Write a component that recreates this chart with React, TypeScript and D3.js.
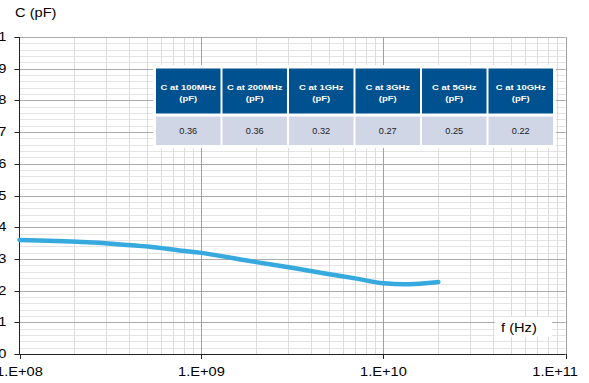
import React from 'react';
import * as d3 from 'd3';

const width = 589;
const height = 383;
const margin = { top: 37, right: 23.5, bottom: 29, left: 19.5 };
const blue = '#36a9de';
const headBlue = '#00518f';
const cellBlue = '#d0d6e6';
const stretch = 1.22; // the reference text is a bit wider than plain Arial

const freqHz = [1e8, 1.43e8, 2.2e8, 3.35e8, 5.08e8, 7.8e8, 1.0e9, 1.4e9, 2.04e9, 3.14e9, 4.77e9, 7.25e9, 1.0e10, 1.32e10, 1.7e10, 2.0e10];
const capPF = [0.36, 0.357, 0.353, 0.347, 0.339, 0.326, 0.319, 0.305, 0.289, 0.272, 0.254, 0.237, 0.223, 0.22, 0.223, 0.227];

// table
const tableFreqs = ['100MHz', '200MHz', '1GHz', '3GHz', '5GHz', '10GHz'];
const tableValues = ['0.36', '0.36', '0.32', '0.27', '0.25', '0.22'];

// axes
const yTicks = [0, 0.1, 0.2, 0.3, 0.4, 0.5, 0.6, 0.7, 0.8, 0.9, 1];
const yTickLabels = ['0', '0.1', '0.2', '0.3', '0.4', '0.5', '0.6', '0.7', '0.8', '0.9', '1'];
const xTicks = [1e8, 1e9, 1e10, 1e11];
const xTickLabels = ['1.E+08', '1.E+09', '1.E+10', '1.E+11'];

const font = 'Liberation Sans, Arial, sans-serif';

const T = ({ x, y, anchor = 'start', size = 12, weight = 'normal', fill = '#000', sx = stretch, children }: any) => (
	<text
		transform={`translate(${x},${y}) scale(${sx},1)`}
		textAnchor={anchor}
		fontSize={size}
		fontWeight={weight}
		fill={fill}
		fontFamily={font}
	>
		{children}
	</text>
);

export default function App() {
	const x = d3.scaleLog().domain([1e8, 1e11]).range([margin.left, width - margin.right]);
	const y = d3.scaleLinear().domain([0, 1]).range([height - margin.bottom, margin.top]);
	const x0 = margin.left;
	const x1 = width - margin.right;
	const y0 = height - margin.bottom;

	// minor grid
	const xMinor: number[] = [];
	[1e8, 1e9, 1e10].forEach((d) => {
		for (let k = 2; k <= 9; k++) xMinor.push(d * k);
	});
	const yMinor = d3.range(0, 50).map((i) => i * 0.02).filter((v, i) => i % 5 !== 0);

	const line = d3
		.line<number>()
		.x((d, i) => x(freqHz[i]))
		.y((d) => y(d))
		.curve(d3.curveMonotoneX);

	// table layout
	const col = d3.scaleBand<string>().domain(tableFreqs).range([156, 553]).paddingInner(0.03);
	const headTop = 68.5;
	const headH = 45;
	const rowTop = 116.5;
	const rowH = 28.5;

	return (
		<svg width={width} height={height} style={{ position: 'absolute', left: 0, top: 0, background: '#fff' }}>
			{/* minor grid */}
			{yMinor.map((v) => (
				<line key={'ym' + v} x1={x0} x2={x1} y1={Math.round(y(v)) + 0.5} y2={Math.round(y(v)) + 0.5} stroke="#e4e4e4" />
			))}
			{xMinor.map((f) => (
				<line key={'xm' + f} x1={Math.round(x(f)) + 0.5} x2={Math.round(x(f)) + 0.5} y1={margin.top} y2={y0} stroke="#dcdcdc" />
			))}
			{/* major grid */}
			{yTicks.map((v) => (
				<line key={'yM' + v} x1={x0} x2={x1} y1={Math.round(y(v)) + 0.5} y2={Math.round(y(v)) + 0.5} stroke="#ababab" />
			))}
			{xTicks.slice(1).map((f) => (
				<line key={'xM' + f} x1={Math.round(x(f)) + 0.5} x2={Math.round(x(f)) + 0.5} y1={margin.top} y2={y0} stroke="#a0a0a0" />
			))}

			{/* axes */}
			<line x1={x0} x2={x0} y1={margin.top} y2={y0} stroke="#222" />
			<line x1={x0} x2={x1} y1={y0 + 0.5} y2={y0 + 0.5} stroke="#222" />
			{yTicks.map((v) => (
				<line key={'yt' + v} x1={x0 - 5} x2={x0} y1={Math.round(y(v)) + 0.5} y2={Math.round(y(v)) + 0.5} stroke="#222" />
			))}
			{xTicks.map((f) => (
				<line key={'xt' + f} x1={Math.round(x(f)) + 0.5} x2={Math.round(x(f)) + 0.5} y1={y0} y2={y0 + 5} stroke="#222" />
			))}
			{yTicks.map((v, i) => (
				<T key={'yl' + v} x={6.5} y={y(v) + 4} anchor="end">
					{yTickLabels[i]}
				</T>
			))}
			{xTicks.map((f, i) => {
				const last = i === xTicks.length - 1;
				// last label is pulled in so it stays inside the frame
				return (
					<T key={'xl' + f} x={last ? 578 : x(f)} y={y0 + 22} anchor={last ? 'end' : 'middle'}>
						{xTickLabels[i]}
					</T>
				);
			})}

			{/* curve */}
			<path d={line(capPF) || ''} fill="none" stroke={blue} strokeWidth={4.5} strokeLinecap="round" strokeLinejoin="round" />

			{/* table */}
			<rect x={153} y={65} width={403} height={83} fill="#fff" />
			{tableFreqs.map((f, i) => {
				const cx = (col(f) as number) + col.bandwidth() / 2;
				return (
					<g key={f}>
						<rect x={col(f)} y={headTop} width={col.bandwidth()} height={headH} fill={headBlue} />
						<rect x={col(f)} y={rowTop} width={col.bandwidth()} height={rowH} fill={cellBlue} />
						<T x={cx} y={89.5} anchor="middle" size={8} weight="bold" fill="#fff" sx={1.18}>
							{`C at ${f}`}
						</T>
						<T x={cx} y={100.5} anchor="middle" size={8} weight="bold" fill="#fff" sx={1.18}>
							(pF)
						</T>
						<T x={cx} y={133.5} anchor="middle" size={8.5} fill="#222" sx={1.08}>
							{tableValues[i]}
						</T>
					</g>
				);
			})}

			{/* axis titles */}
			<T x={15} y={16.5}>
				C (pF)
			</T>
			<rect x={495} y={317} width={57} height={20} fill="#fff" />
			<T x={501} y={331.5}>
				f (Hz)
			</T>
		</svg>
	);
}
